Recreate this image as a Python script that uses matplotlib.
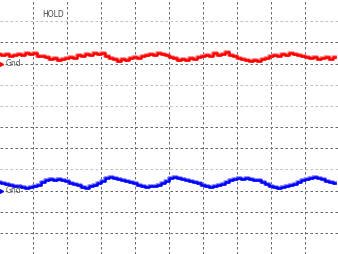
import numpy as np
import matplotlib
matplotlib.use('Agg')
from matplotlib import pyplot as plt

# time axis: one sample every 4 screen columns (34 columns per division)
t_div = np.arange(0, 337, 4) / 34.0

# channel readings in mV above each ground marker (21.2 mV per division)
ch1_mv = [10, 9, 10, 8, 9, 10, 9, 11, 10, 11, 8, 8, 7, 5, 6, 4, 5, 6, 7, 6,
          9, 8, 10, 9, 11, 10, 11, 8, 6, 5, 3, 5, 4, 6, 7, 6, 8, 9, 10, 9,
          11, 10, 9, 7, 6, 4, 5, 4, 6, 5, 7, 8, 9, 8, 11, 9, 10, 12, 9, 8,
          6, 5, 4, 3, 4, 3, 5, 6, 8, 9, 8, 10, 9, 11, 10, 9, 8, 7, 6, 7,
          5, 6, 7, 5, 7]
ch2_mv = [9, 8, 7, 6, 5, 5, 4, 3, 4, 5, 6, 9, 11, 12, 11, 12, 11, 10, 8, 7,
          6, 4, 3, 5, 6, 8, 10, 13, 14, 13, 12, 11, 10, 9, 8, 6, 5, 4, 5, 5,
          6, 8, 10, 13, 14, 13, 12, 11, 10, 9, 8, 6, 5, 4, 5, 6, 7, 9, 11, 12,
          13, 12, 13, 12, 11, 11, 9, 7, 5, 4, 3, 4, 5, 6, 7, 9, 11, 12, 13, 14,
          13, 12, 10, 9, 8]
mv_per_div = 21.2
ch1_gnd = 9.0   # divisions from bottom
ch2_gnd = 3.0

fig = plt.figure(figsize=(3.38, 2.54), dpi=100)
ax = fig.add_axes([0, 0, 1, 1])
ax.set_xlim(0.015, 9.956)
ax.set_ylim(0, 12)
ax.axis('off')

# graticule
dark_rows = [2, 3, 6, 7, 9, 10, 11]
for k in range(1, 12):
    col = '#6a6a6a' if (12 - k) in dark_rows else '#c0c0c0'
    ax.axhline(k, color=col, lw=0.72, ls=(0, (2.5, 2.5)), zorder=1)
for k in range(1, 10):
    ax.axvline(k, color='#6a6a6a', lw=0.72, ls=(0, (2.5, 2.5)), zorder=1)

y1 = ch1_gnd + np.array(ch1_mv) / mv_per_div
y2 = ch2_gnd + np.array(ch2_mv) / mv_per_div
ax.plot(t_div, y1, color='#ff9090', lw=2.8, drawstyle='steps-mid', zorder=2)
ax.plot(t_div, y1, color='#ff0000', lw=1.8, drawstyle='steps-mid', zorder=3)
ax.plot(t_div, y2, color='#9090ff', lw=2.8, drawstyle='steps-mid', zorder=2)
ax.plot(t_div, y2, color='#0000ff', lw=1.8, drawstyle='steps-mid', zorder=3)

# ground markers and labels
ax.plot([0.05], [ch1_gnd], marker='>', color='#ff0000', ms=3, zorder=4)
ax.plot([0.05], [ch2_gnd], marker='>', color='#0000ff', ms=3, zorder=4)
ax.text(0.18, ch1_gnd, 'Gnd', color='#555555', fontsize=5.5, va='center', zorder=4)
ax.text(0.18, ch2_gnd, 'Gnd', color='#555555', fontsize=5.5, va='center', zorder=4)
ax.text(1.25, 12 - 15 / 21.2, 'HOLD', color='#444444', fontsize=5.5, va='center')

fig.savefig('out.png', dpi=100)
